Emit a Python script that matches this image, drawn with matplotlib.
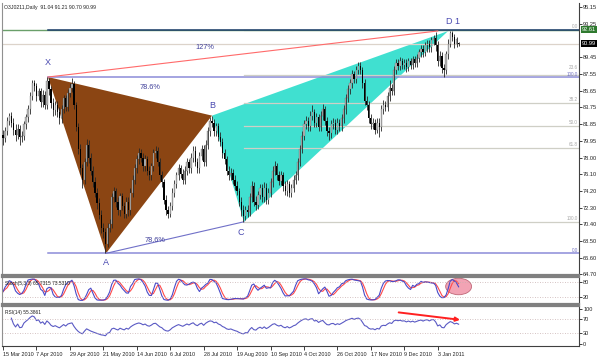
import numpy as np
import pandas as pd
import matplotlib
matplotlib.use('Agg')
import matplotlib.pyplot as plt
from matplotlib.patches import Polygon, Ellipse
import matplotlib.transforms as mtransforms

plt.rcParams['font.family'] = ['Liberation Sans', 'DejaVu Sans']

# daily bars, 15 Mar 2010 .. mid Jan 2011
open_px = [80.6, 80.2, 81.0, 82.2, 82.8, 82.0, 81.2, 80.6, 81.3, 80.4,
           80.5, 81.8, 82.6, 83.5, 85.0, 86.5, 86.2, 85.0, 85.6, 84.3,
           85.2, 84.0, 86.8, 85.8, 84.2, 83.4, 84.0, 83.2, 82.5, 83.6,
           84.8, 83.8, 85.4, 86.0, 86.4, 84.0, 81.5, 79.0, 76.8, 75.5,
           77.5, 79.5, 78.0, 76.5, 75.2, 74.0, 72.8, 71.5, 70.0, 69.5,
           68.2, 70.0, 70.5, 73.5, 74.2, 73.0, 72.0, 73.6, 72.5, 71.6,
           73.0, 72.0, 74.0, 75.5, 76.8, 77.8, 78.5, 78.0, 77.0, 77.8,
           76.5, 76.0, 77.0, 78.5, 78.8, 77.5, 76.0, 75.2, 73.2, 72.0,
           71.6, 72.5, 74.0, 75.0, 76.0, 76.8, 76.2, 75.5, 76.5, 77.5,
           76.8, 78.0, 78.8, 77.5, 76.8, 78.2, 79.0, 77.5, 79.5, 81.0,
           82.2, 82.0, 81.0, 81.6, 80.4, 79.8, 78.5, 77.8, 76.5, 76.0,
           76.3, 75.5, 74.8, 74.2, 73.0, 72.0, 71.4, 72.0, 71.8, 73.5,
           74.8, 73.0, 72.6, 73.8, 74.5, 73.5, 74.6, 73.2, 74.0, 75.2,
           76.5, 77.0, 76.0, 75.4, 76.0, 74.8, 74.2, 75.0, 74.0, 74.6,
           75.5, 76.0, 77.5, 79.0, 80.5, 81.8, 82.2, 81.6, 82.8, 83.2,
           82.0, 82.6, 81.5, 82.8, 83.5, 82.2, 81.0, 80.8, 81.8, 82.0,
           81.2, 82.0, 81.6, 82.5, 83.5, 84.8, 85.8, 86.5, 87.5, 87.0,
           88.0, 88.5, 88.0, 86.5, 84.5, 84.0, 82.5, 81.8, 82.0, 81.2,
           82.0, 81.5, 83.5, 84.0, 83.8, 85.0, 86.0, 85.6, 88.0, 88.8,
           88.5, 89.0, 88.6, 88.8, 88.3, 89.0, 88.6, 89.2, 88.8, 89.4,
           90.0, 90.4, 90.0, 90.8, 91.0, 90.6, 91.4, 91.6, 90.8, 89.0,
           89.6, 88.2, 88.0, 89.8, 91.0, 92.2, 91.8, 91.0, 91.04]
high_px = [81.2, 81.5, 82.7, 83.1, 83.2, 82.5, 81.8, 81.8, 81.7, 81.0,
           82.2, 83.0, 84.0, 85.5, 86.9, 86.9, 86.5, 86.0, 86.0, 85.7,
           85.6, 87.2, 87.1, 86.2, 84.8, 84.5, 84.5, 83.8, 84.0, 85.2,
           85.2, 85.8, 86.5, 87.1, 86.7, 84.4, 82.0, 79.6, 77.3, 78.0,
           80.1, 80.0, 78.5, 77.0, 75.8, 74.5, 73.4, 72.0, 70.6, 70.0,
           70.6, 71.0, 74.0, 74.7, 74.6, 73.5, 74.0, 74.0, 73.0, 73.5,
           73.5, 74.5, 76.0, 77.3, 78.3, 79.1, 79.0, 78.5, 78.3, 78.2,
           77.0, 77.4, 79.0, 79.3, 79.2, 78.0, 76.5, 75.6, 73.8, 72.5,
           73.0, 74.5, 75.5, 76.4, 77.3, 77.2, 76.7, 77.0, 78.0, 77.9,
           78.5, 79.3, 79.3, 78.0, 78.7, 79.5, 79.4, 80.0, 81.5, 82.6,
           82.8, 82.4, 82.0, 82.0, 80.9, 80.3, 79.0, 78.2, 77.0, 76.8,
           76.7, 76.0, 75.3, 74.6, 73.5, 72.6, 72.5, 72.6, 74.0, 75.4,
           75.2, 73.6, 74.2, 75.0, 75.0, 75.2, 75.1, 74.5, 75.7, 77.0,
           77.6, 77.4, 76.5, 76.5, 76.4, 75.3, 75.5, 75.4, 75.0, 76.0,
           76.5, 78.0, 79.5, 81.0, 82.3, 82.8, 82.6, 83.3, 84.0, 83.6,
           83.1, 83.0, 83.3, 84.1, 83.9, 82.7, 81.5, 82.3, 82.5, 82.4,
           82.5, 82.4, 83.0, 84.0, 85.3, 86.3, 87.0, 88.0, 87.9, 88.5,
           88.9, 88.9, 88.4, 87.0, 85.0, 84.5, 83.0, 82.5, 82.4, 82.5,
           82.5, 84.0, 84.6, 84.5, 85.5, 86.9, 86.4, 88.5, 89.3, 89.2,
           89.5, 89.4, 89.3, 89.2, 89.4, 89.4, 89.6, 89.6, 89.8, 90.4,
           90.8, 90.8, 91.2, 91.4, 91.4, 91.8, 92.0, 92.3, 91.3, 90.2,
           90.0, 88.7, 90.2, 91.5, 92.5, 92.4, 92.1, 91.8, 91.21]
low_px = [79.5, 79.8, 80.6, 81.7, 81.5, 80.6, 79.9, 80.1, 79.4, 79.8,
          80.0, 81.3, 82.1, 83.0, 84.6, 85.6, 84.5, 84.6, 83.8, 83.8,
          83.5, 83.6, 85.2, 83.7, 82.8, 82.9, 82.6, 81.8, 82.0, 83.1,
          83.3, 83.3, 84.9, 85.5, 83.5, 81.0, 78.4, 76.2, 74.6, 75.0,
          77.0, 77.4, 76.0, 74.7, 73.5, 72.2, 71.0, 69.4, 68.9, 67.1,
          67.8, 69.5, 70.0, 73.0, 72.4, 71.5, 71.4, 72.0, 71.1, 71.1,
          71.4, 71.5, 73.5, 75.0, 76.3, 77.3, 77.5, 76.5, 76.5, 76.0,
          75.5, 75.5, 76.5, 78.0, 77.0, 75.5, 74.7, 72.7, 71.5, 71.1,
          71.2, 72.0, 73.5, 74.5, 75.5, 75.7, 75.0, 75.0, 76.0, 76.3,
          76.3, 77.5, 77.0, 76.3, 76.3, 77.7, 77.0, 77.0, 79.0, 80.5,
          81.5, 80.5, 80.5, 79.9, 79.3, 78.0, 77.3, 76.0, 75.5, 75.5,
          75.0, 74.3, 73.7, 72.5, 71.4, 70.7, 70.9, 71.2, 71.3, 73.0,
          72.5, 72.0, 72.1, 73.3, 73.0, 73.0, 72.7, 72.7, 73.5, 74.7,
          76.0, 75.5, 74.9, 74.9, 74.2, 73.7, 73.6, 73.5, 73.5, 74.1,
          75.0, 75.5, 77.0, 78.5, 80.0, 81.3, 81.1, 81.1, 82.3, 81.5,
          81.5, 81.0, 81.0, 82.3, 81.7, 80.5, 80.0, 80.3, 81.3, 80.7,
          80.7, 81.1, 81.1, 82.0, 83.0, 84.3, 85.3, 86.0, 86.5, 86.5,
          87.5, 87.5, 86.0, 84.0, 83.4, 82.0, 81.3, 81.3, 80.7, 80.8,
          80.4, 81.0, 83.0, 83.3, 83.3, 84.5, 85.1, 85.1, 87.5, 88.0,
          88.0, 88.1, 88.1, 87.8, 87.9, 88.1, 88.1, 88.3, 88.3, 88.9,
          89.5, 89.5, 89.6, 90.1, 90.1, 90.1, 90.9, 90.2, 88.5, 88.5,
          87.7, 87.2, 87.5, 89.3, 90.6, 91.3, 90.5, 90.6, 90.70]
close_px = [80.2, 81.0, 82.2, 82.8, 82.0, 81.2, 80.6, 81.3, 80.4, 80.5,
            81.8, 82.6, 83.5, 85.0, 86.5, 86.2, 85.0, 85.6, 84.3, 85.2,
            84.0, 86.8, 85.8, 84.2, 83.4, 84.0, 83.2, 82.5, 83.6, 84.8,
            83.8, 85.4, 86.0, 86.4, 84.0, 81.5, 79.0, 76.8, 75.5, 77.5,
            79.5, 78.0, 76.5, 75.2, 74.0, 72.8, 71.5, 70.0, 69.5, 68.2,
            70.0, 70.5, 73.5, 74.2, 73.0, 72.0, 73.6, 72.5, 71.6, 73.0,
            72.0, 74.0, 75.5, 76.8, 77.8, 78.5, 78.0, 77.0, 77.8, 76.5,
            76.0, 77.0, 78.5, 78.8, 77.5, 76.0, 75.2, 73.2, 72.0, 71.6,
            72.5, 74.0, 75.0, 76.0, 76.8, 76.2, 75.5, 76.5, 77.5, 76.8,
            78.0, 78.8, 77.5, 76.8, 78.2, 79.0, 77.5, 79.5, 81.0, 82.2,
            82.0, 81.0, 81.6, 80.4, 79.8, 78.5, 77.8, 76.5, 76.0, 76.3,
            75.5, 74.8, 74.2, 73.0, 72.0, 71.4, 72.0, 71.8, 73.5, 74.8,
            73.0, 72.6, 73.8, 74.5, 73.5, 74.6, 73.2, 74.0, 75.2, 76.5,
            77.0, 76.0, 75.4, 76.0, 74.8, 74.2, 75.0, 74.0, 74.6, 75.5,
            76.0, 77.5, 79.0, 80.5, 81.8, 82.2, 81.6, 82.8, 83.2, 82.0,
            82.6, 81.5, 82.8, 83.5, 82.2, 81.0, 80.8, 81.8, 82.0, 81.2,
            82.0, 81.6, 82.5, 83.5, 84.8, 85.8, 86.5, 87.5, 87.0, 88.0,
            88.5, 88.0, 86.5, 84.5, 84.0, 82.5, 81.8, 82.0, 81.2, 82.0,
            81.5, 83.5, 84.0, 83.8, 85.0, 86.0, 85.6, 88.0, 88.8, 88.5,
            89.0, 88.6, 88.8, 88.3, 89.0, 88.6, 89.2, 88.8, 89.4, 90.0,
            90.4, 90.0, 90.8, 91.0, 90.6, 91.4, 91.6, 90.8, 89.0, 89.6,
            88.2, 88.0, 89.8, 91.0, 92.2, 91.8, 91.0, 91.5, 90.99]

date_labels = ['15 Mar 2010', '7 Apr 2010', '29 Apr 2010', '21 May 2010', '14 Jun 2010',
               '6 Jul 2010', '28 Jul 2010', '19 Aug 2010', '10 Sep 2010', '4 Oct 2010',
               '26 Oct 2010', '17 Nov 2010', '9 Dec 2010', '3 Jan 2011']
date_idx = [0, 16, 32, 48, 64, 80, 96, 112, 128, 144, 160, 176, 192, 208]

price_ticks = [95.15, 93.25, 89.45, 87.55, 85.65, 83.75, 81.85, 79.95, 78.00,
               76.10, 74.20, 72.30, 70.40, 68.50, 66.60, 64.70]

# X A B C D pattern points (bar index, price)
pat_names = ['X', 'A', 'B', 'C', 'D 1']
pat_idx = [21.5, 49.3, 100, 115.3, 213]
pat_price = [87.2, 67.1, 82.8, 70.7, 92.45]
xd_end_idx = 208

fib_ax_levels = [0.0, 100.0]                           # A -> X
fib_cd_levels = [0.0, 23.6, 38.2, 50.0, 61.8, 100.0]   # D -> C
top_level = 92.61
last_price = 90.99

n = len(close_px)
idx = np.arange(n)
df = pd.DataFrame({'open': open_px, 'high': high_px, 'low': low_px, 'close': close_px})

# Stoch(5,3,3)
ll = df['low'].rolling(5, min_periods=1).min()
hh = df['high'].rolling(5, min_periods=1).max()
k_num = (df['close'] - ll).rolling(3, min_periods=1).sum()
k_den = (hh - ll).rolling(3, min_periods=1).sum()
stoch_main = 100 * k_num / k_den
stoch_sig = stoch_main.rolling(3, min_periods=1).mean()

# RSI(14)
delta = df['close'].diff().fillna(0)
gain = delta.clip(lower=0).ewm(alpha=1/14, adjust=False).mean()
loss = (-delta.clip(upper=0)).ewm(alpha=1/14, adjust=False).mean()
rsi = 100 - 100 / (1 + gain / loss.replace(0, np.nan))

W, H = 600, 357
def box(x0, y0, x1, y1):
    return [x0/W, 1 - y1/H, (x1 - x0)/W, (y1 - y0)/H]

fig = plt.figure(figsize=(W/100, H/100), dpi=100)
ax = fig.add_axes(box(2, 3, 579, 275))
ax_st = fig.add_axes(box(2, 277, 579, 304))
ax_rsi = fig.add_axes(box(2, 306, 579, 346))

xmin, xmax = -0.48, 275.6
for a in (ax, ax_st, ax_rsi):
    a.set_xlim(xmin, xmax)
    a.set_facecolor('white')
    a.yaxis.tick_right()
    a.tick_params(axis='y', length=2, width=0.6, labelsize=4.1, pad=1, colors='#202020')
    a.spines['top'].set_visible(False)
    a.spines['left'].set_color('#909090')
    a.spines['right'].set_color('#404040')
    a.spines['right'].set_linewidth(0.8)
    a.spines['bottom'].set_color('#808080')
    a.spines['bottom'].set_linewidth(1.6)
for a in (ax_st, ax_rsi):
    a.spines['top'].set_visible(True)
    a.spines['top'].set_color('#808080')
    a.spines['top'].set_linewidth(1.6)
ax_rsi.spines['bottom'].set_linewidth(0.8)
ax_rsi.spines['bottom'].set_color('#404040')

# ---- main price panel
ax.set_ylim(64.63, 95.64)
ax.set_yticks(price_ticks)
ax.set_yticklabels(['%.2f' % p for p in price_ticks])
ax.set_xticks([])

ax.add_patch(Polygon(list(zip(pat_idx[0:3], pat_price[0:3])), closed=True,
                     facecolor='#8b4513', edgecolor='none', zorder=1))
ax.add_patch(Polygon(list(zip(pat_idx[2:5], pat_price[2:5])), closed=True,
                     facecolor='#40e0d0', edgecolor='none', zorder=1))

# fib A->X (blue) and D->C (grey)
ax_range = pat_price[0] - pat_price[1]
for lev in fib_ax_levels:
    p = pat_price[1] + ax_range * lev / 100
    ax.plot([pat_idx[0], xmax], [p, p], color='#8c8cd8', lw=1.1, zorder=2)
    ax.text(xmax - 0.6, p + 0.06, '%.1f' % lev, ha='right', va='bottom',
            fontsize=3.3, color='#7070c0', zorder=6)
cd_range = top_level - pat_price[3]
for lev in fib_cd_levels:
    p = top_level - cd_range * lev / 100
    ax.plot([pat_idx[3], xmax], [p, p], color='#cfcfc6', lw=0.9, zorder=2)
    off = 0.55 if lev == 23.6 else 0.1
    ax.text(xmax - 0.6, p + off, '%.1f' % lev, ha='right', va='bottom',
            fontsize=3.3, color='#a8a8a8', zorder=6)

ax.axhline(top_level, color='#6a9f6a', lw=1.0, zorder=2)
ax.plot([pat_idx[0], xmax], [top_level, top_level], color='#1c3c6c', lw=1.1, zorder=3)
ax.axhline(last_price, color='#dcd3ca', lw=0.9, zorder=2)

# X->D and A->C legs
ax.plot([pat_idx[0], xd_end_idx], [pat_price[0], pat_price[4]], color='#ff6a6a', lw=0.8, zorder=3)
ax.plot([pat_idx[1], pat_idx[3]], [pat_price[1], pat_price[3]], color='#7070c8', lw=0.8, zorder=3)

# candles
up = df['close'] >= df['open']
ax.vlines(idx, df['low'], df['high'], color='#262626', lw=0.6, zorder=4)
body_lo = np.minimum(df['open'], df['close'])
body_h = np.maximum(np.abs(df['close'] - df['open']), 0.08)
ax.bar(idx[up], body_h[up], bottom=body_lo[up], width=0.6, color='#b4b4b4',
       edgecolor='#606060', linewidth=0.2, zorder=5)
ax.bar(idx[~up], body_h[~up], bottom=body_lo[~up], width=0.6, color='#000000',
       linewidth=0, zorder=5)

lab_col = '#4848b0'
lab_off = [(0, 1.6), (0, -1.0), (0, 1.1), (-1.5, -1.2), (2.5, 1.1)]
for name, xi, yp, (dx, dy) in zip(pat_names, pat_idx, pat_price, lab_off):
    ax.text(xi + dx, yp + dy, name, ha='center', va='center', fontsize=6.5,
            color=lab_col, zorder=7)
ax.text(96.7, 90.6, '127%', ha='center', va='center', fontsize=5.3, color='#40409a', zorder=7)
ax.text(70.3, 86.05, '78.6%', ha='center', va='center', fontsize=5.3, color='#40409a', zorder=7)
ax.text(72.7, 68.6, '78.6%', ha='center', va='center', fontsize=5.3, color='#40409a', zorder=7)

trans = mtransforms.blended_transform_factory(ax.transAxes, ax.transData)
ax.text(1.005, top_level, '%.2f' % top_level, transform=trans, fontsize=4.1, color='white',
        va='center', ha='left', zorder=8,
        bbox=dict(boxstyle='square,pad=0.15', facecolor='#2f7a2f', edgecolor='none'))
ax.text(1.005, last_price, '%.2f' % last_price, transform=trans, fontsize=4.1, color='white',
        va='center', ha='left', zorder=8,
        bbox=dict(boxstyle='square,pad=0.15', facecolor='#000000', edgecolor='none'))

fig.text(4/W, 1 - 7/H, 'O3J0211,Daily  91.04 91.21 90.70 90.99', fontsize=3.7,
         va='center', ha='left', color='#202020')

# ---- stochastic
ax_st.set_ylim(-8, 100)
ax_st.plot(idx, stoch_sig, color='#ff4a4a', lw=0.8)
ax_st.plot(idx, stoch_main, color='#4a4ac8', lw=0.8)
for lv in (20, 80):
    ax_st.axhline(lv, color='#c8b0b0', lw=0.6, ls=(0, (1, 2)))
ax_st.set_yticks([80, 20])
ax_st.set_yticklabels(['80', '20'])
ax_st.set_xticks([])
ax_st.text(0.005, 0.86, 'Stoch(5,3,3) 65.7315 73.5310', transform=ax_st.transAxes,
           fontsize=3.5, va='top', ha='left', color='#202020')
ax_st.add_patch(Ellipse((n - 1, 62), 12.4, 66, facecolor='#f2a3b4', edgecolor='#c06878',
                        lw=0.6, zorder=0))

# ---- RSI
ax_rsi.set_ylim(-5.6, 108.3)
ax_rsi.plot(idx, rsi, color='#5a5ac4', lw=0.8)
for lv in (30, 70):
    ax_rsi.axhline(lv, color='#c8b0b0', lw=0.6, ls=(0, (1, 2)))
ax_rsi.set_yticks([100, 70, 30, 0])
ax_rsi.set_yticklabels(['100', '70', '30', '0'])
ax_rsi.text(0.005, 0.9, 'RSI(14) 55.3861', transform=ax_rsi.transAxes,
            fontsize=3.5, va='top', ha='left', color='#202020')
ax_rsi.annotate('', xy=(220, 68), xytext=(188, 91),
                arrowprops=dict(arrowstyle='-|>', color='#ff2020', lw=1.4,
                                mutation_scale=6))
ax_rsi.set_xticks(date_idx)
ax_rsi.set_xticklabels(date_labels, ha='left')
ax_rsi.tick_params(axis='x', length=3, width=0.6, labelsize=3.9, pad=1.5, colors='#202020')

fig.savefig('out.png', dpi=100, facecolor='white')
